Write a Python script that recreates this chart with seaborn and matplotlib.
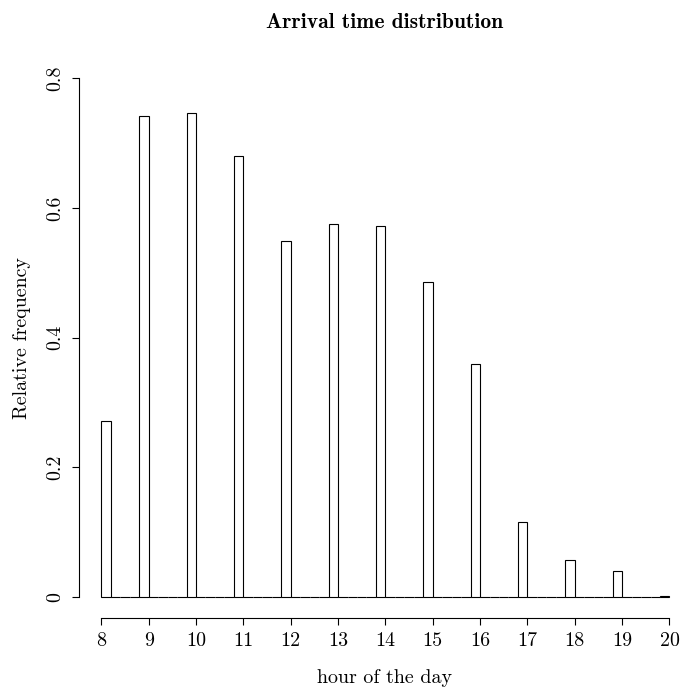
import numpy as np
import pandas as pd
import matplotlib
matplotlib.use("Agg")
import matplotlib.pyplot as plt
import seaborn as sns

# ---- data ----
hours = [8, 9, 10, 11, 12, 13, 14, 15, 16, 17, 18, 19, 20]
rel_freq = [0.271, 0.741, 0.746, 0.680, 0.549, 0.575, 0.572, 0.485, 0.359,
            0.116, 0.0575, 0.040, 0.0015]
x_ticks = [8, 9, 10, 11, 12, 13, 14, 15, 16, 17, 18, 19, 20]
y_ticks = [0, 0.2, 0.4, 0.6, 0.8]
y_tick_labels = ["0", "0.2", "0.4", "0.6", "0.8"]
bin_width = 0.2

sns.set_style("ticks")
plt.rcParams["font.family"] = ["cmr10", "DejaVu Serif"]
plt.rcParams["axes.formatter.use_mathtext"] = True
plt.rcParams["text.color"] = "black"
plt.rcParams["axes.labelcolor"] = "black"
plt.rcParams["xtick.color"] = "black"
plt.rcParams["ytick.color"] = "black"
plt.rcParams["xtick.labelcolor"] = "black"
plt.rcParams["ytick.labelcolor"] = "black"

# R-style right-closed bins: first bin [8, 8.2], then (h-0.2, h]
x_mid = [h + bin_width / 2 if h == hours[0] else h - bin_width / 2 for h in hours]
df = pd.DataFrame({"hour_mid": x_mid, "rel_freq": rel_freq})
n_bins = int(round((hours[-1] - hours[0]) / bin_width))

fig = plt.figure(figsize=(6.81, 6.87), dpi=100)
ax = fig.add_axes([78.6 / 681, 1 - 617.75 / 687, 613.6 / 681, 560.3 / 687])

sns.histplot(data=df, x="hour_mid", weights="rel_freq", bins=n_bins,
             binrange=(hours[0], hours[-1]), stat="count",
             fill=True, color="white", edgecolor="black", linewidth=0.8,
             alpha=1, ax=ax)

ax.set_xlim(7.52, 20.48)
ax.set_ylim(-0.032, 0.832)

for s in ["top", "right"]:
    ax.spines[s].set_visible(False)
ax.spines["left"].set_bounds(0, 0.8)
ax.spines["bottom"].set_bounds(8, 20)
for s in ["left", "bottom"]:
    ax.spines[s].set_linewidth(0.8)
    ax.spines[s].set_color("black")

fs = 14.4
ax.set_xticks(x_ticks)
ax.set_xticklabels([str(t) for t in x_ticks], fontsize=fs, color="black")
ax.set_yticks(y_ticks)
ax.set_yticklabels(y_tick_labels, fontsize=fs, rotation=90, color="black",
                   rotation_mode="anchor", ha="center", va="baseline")
ax.tick_params(axis="both", direction="out", length=5, width=0.8, color="black")
ax.tick_params(axis="x", pad=5)
ax.tick_params(axis="y", pad=8.5)

ax.set_xlabel("hour of the day", fontsize=fs, color="black")
ax.xaxis.label.set_verticalalignment("baseline")
ax.xaxis.set_label_coords(385 / 681, 4 / 687, transform=fig.transFigure)
ax.set_ylabel("Relative frequency", fontsize=fs, rotation=90, color="black",
              rotation_mode="anchor", ha="center", va="baseline")
ax.yaxis.set_label_coords(26.7 / 681, 1 - 337.6 / 687, transform=fig.transFigure)

fig.text(385 / 681, 1 - 28.3 / 687, "Arrival time distribution",
         family=["cmb10", "DejaVu Serif"], fontsize=15.5, color="black",
         ha="center", va="baseline")

fig.savefig("out.png", dpi=100)
